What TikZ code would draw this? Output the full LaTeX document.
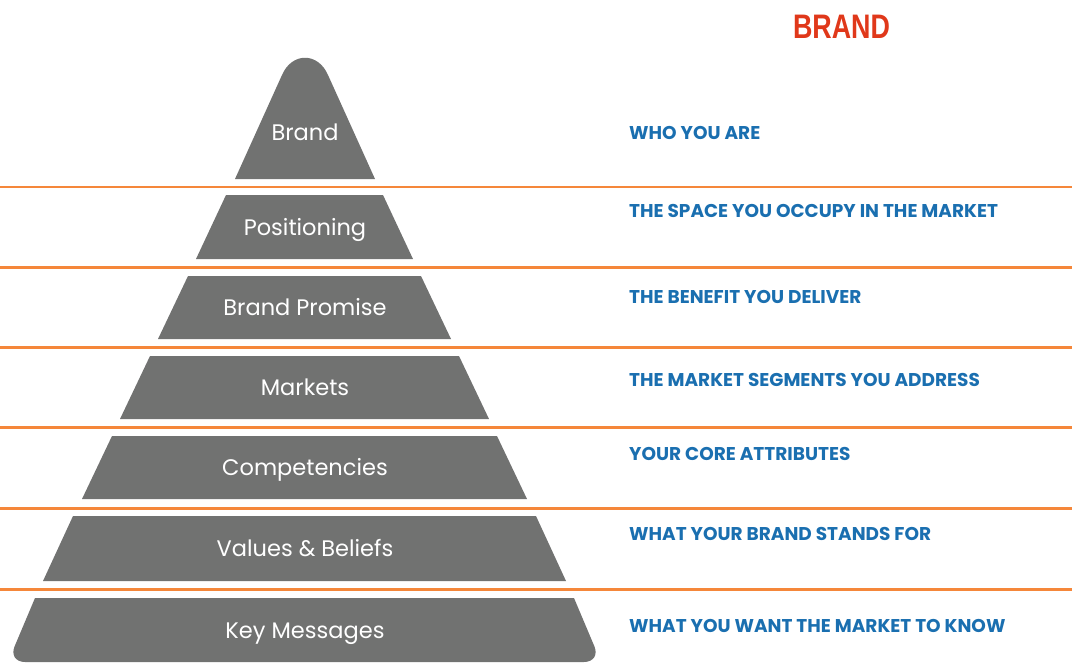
\documentclass[tikz,border=0pt]{standalone}
\usepackage{fontspec}
\setmainfont{Poppins}
\newfontfamily\labfont{Poppins}[UprightFont=* Bold]
\newfontfamily\headfont{Liberation Sans}[UprightFont=* Bold]
\definecolor{pyrgrey}{HTML}{717271}
\definecolor{lineorange}{HTML}{F5873A}
\definecolor{labblue}{HTML}{1A6FB0}
\definecolor{headred}{HTML}{E0381A}
\tikzset{
  tier/.style={fill=pyrgrey, draw=none},
  sep/.style={draw=lineorange, line width=2.7pt},
  tiertext/.style={text=white, font=\fontsize{22.5}{24}\selectfont, anchor=base, inner sep=0pt},
  desc/.style={text=labblue, font=\labfont\fontsize{18.5}{20}\selectfont, anchor=base west, inner sep=0pt},
  head/.style={text=headred, font=\headfont\fontsize{34}{36}\selectfont, anchor=base, inner sep=0pt, xscale=0.79}
}
\begin{document}
\begin{tikzpicture}[x=1pt,y=-1pt]
\useasboundingbox (0,0) rectangle (1077,664);
% separators
\foreach \yy [count=\i] in {187,267.3,347.7,427.7,508.3,589.3}{
  \coordinate (l\i) at (0,\yy);
  \coordinate (r\i) at (1072,\yy);
  \draw[sep] (l\i) -- (r\i);
}
% tiers
\fill[tier] (235,179) -- (282,75) .. controls (292,52) and (318,52) .. (328,75) -- (375,179) -- cycle;
\fill[tier] (226,195) -- (196,259) -- (413,259) -- (383,195) -- cycle;
\fill[tier] (188,276) -- (158,339) -- (451,339) -- (421,276) -- cycle;
\fill[tier] (150,356) -- (120,419) -- (489,419) -- (459,356) -- cycle;
\fill[tier] (112,436) -- (82,499) -- (527,499) -- (497,436) -- cycle;
\fill[tier] (73,516) -- (43,581) -- (566,581) -- (536,516) -- cycle;
\fill[tier] (35,598) [rounded corners=17pt]-- (8,662) -- (601,662) [sharp corners]-- (574,598) -- cycle;
% tier labels
\node[tiertext] (t1) at (305,140) {Brand};
\node[tiertext] (t2) at (305,235) {Positioning};
\node[tiertext] (t3) at (305,315.7) {Brand Promise};
\node[tiertext] (t4) at (305,395.5) {Markets};
\node[tiertext] (t5) at (305,475.5) {Competencies};
\node[tiertext] (t6) at (305,556.5) {Values \& Beliefs};
\node[tiertext] (t7) at (305,638) {Key Messages};
% descriptions
\node[desc] (d1) at (629,139) {WHO YOU ARE};
\node[desc] (d2) at (629,217) {THE SPACE YOU OCCUPY IN THE MARKET};
\node[desc] (d3) at (629,303.5) {THE BENEFIT YOU DELIVER};
\node[desc] (d4) at (629,386) {THE MARKET SEGMENTS YOU ADDRESS};
\node[desc] (d5) at (629,460) {YOUR CORE ATTRIBUTES};
\node[desc] (d6) at (629,540.5) {WHAT YOUR BRAND STANDS FOR};
\node[desc] (d7) at (629,632.5) {WHAT YOU WANT THE MARKET TO KNOW};
% heading
\node[head] (hd) at (841.5,38) {BRAND};
\end{tikzpicture}
\end{document}
